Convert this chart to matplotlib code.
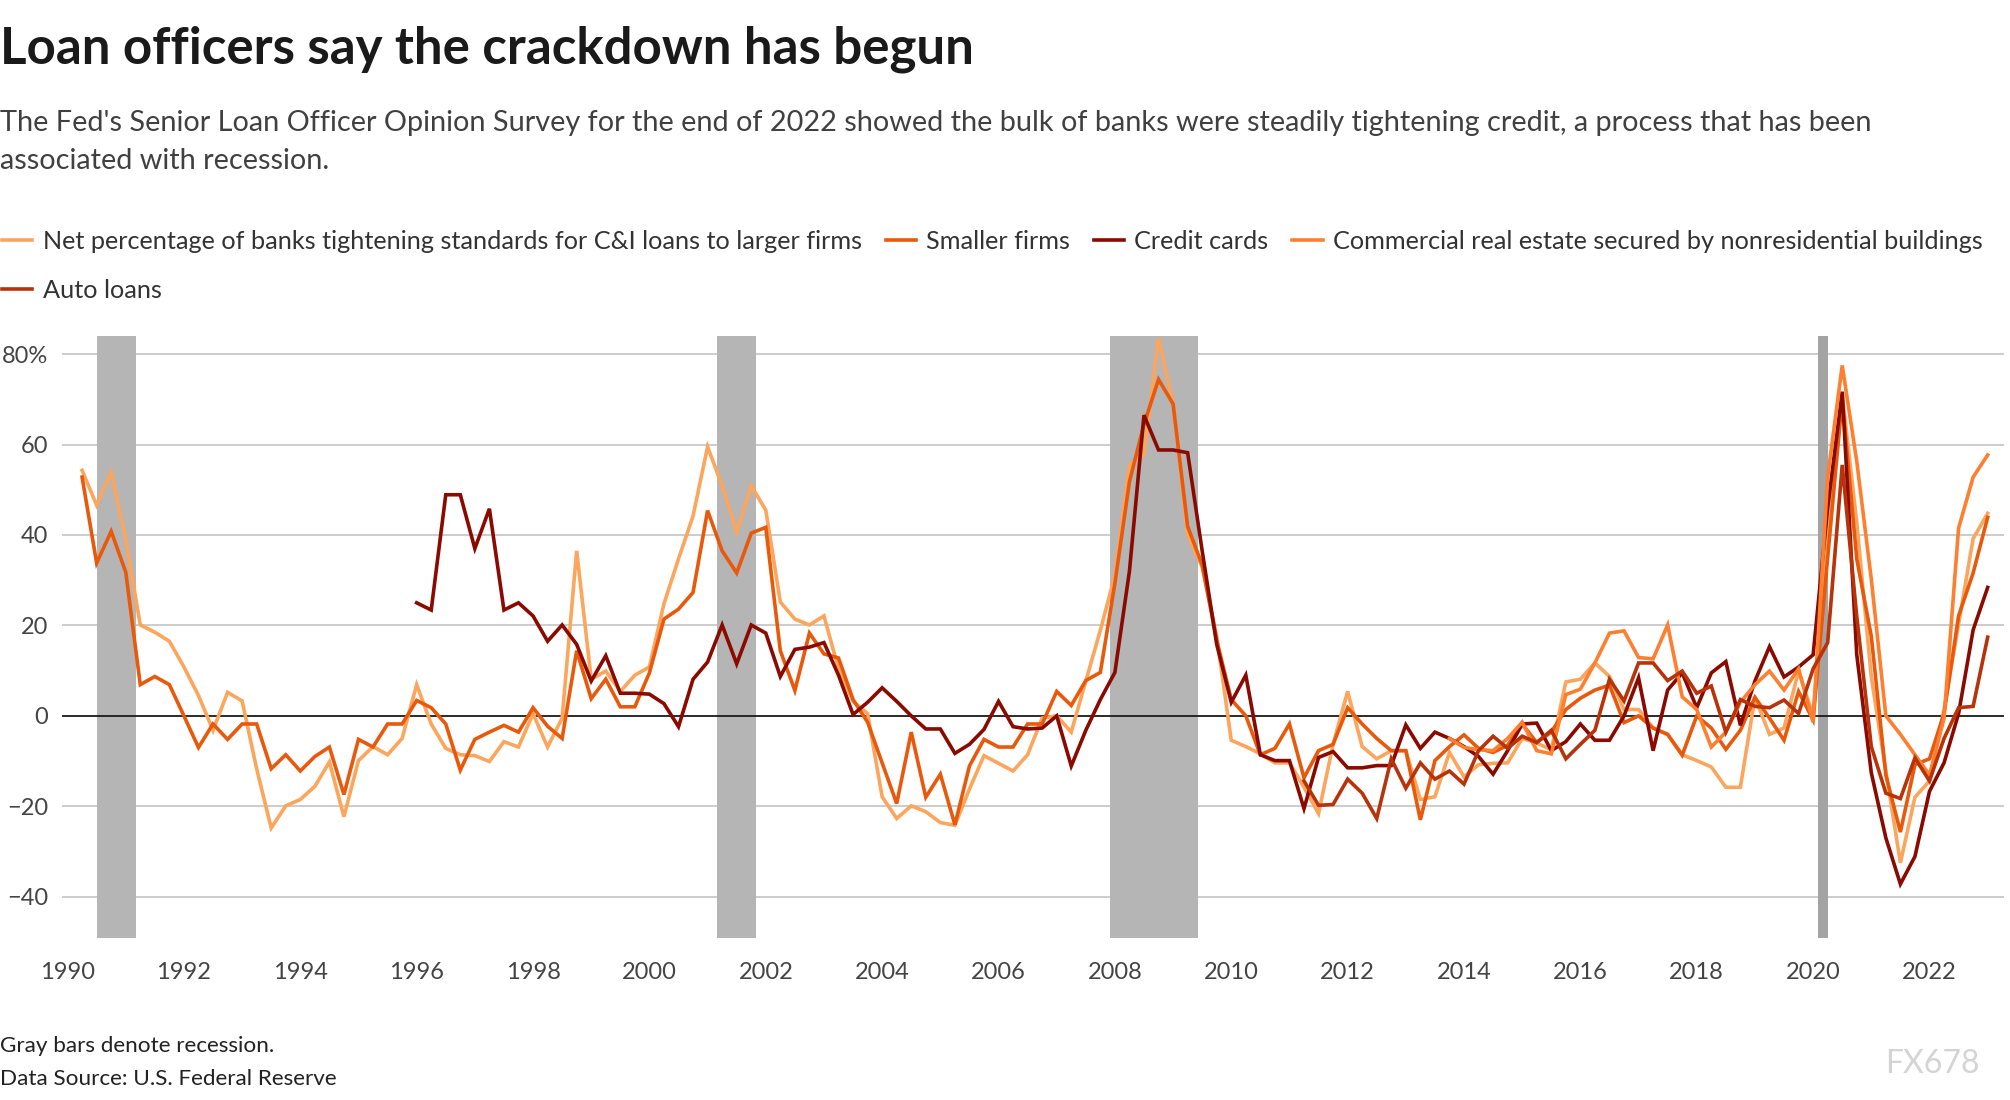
import matplotlib
matplotlib.use("Agg")
import matplotlib.pyplot as plt
import numpy as np

plt.rcParams['font.family'] = ['Lato', 'DejaVu Sans']

# quarterly survey values, net % of banks tightening
larger_start = 1990.25
larger = [54.3, 46.6, 53.9, 39, 20.1, 18.5, 16.5, 10.8, 4.5, -3.2, 5.2, 3.3, -11.7, -24.8, -19.9, -18.5,
          -15.6, -10.2, -22.3, -9.9, -6.8, -8.6, -5, 6.9, -1.8, -7.2, -8.6, -8.8, -10.1, -5.7, -6.9, 0.5,
          -6.9, -0.5, 36.5, 8.1, 9.9, 5.4, 9, 10.8, 24.8, 34.7, 44.2, 59.5, 50.9, 40.6, 50.9, 45.5,
          25.2, 21.4, 20.1, 22.1, 10.4, 3.2, 0.5, -17.9, -22.7, -19.9, -21.2, -23.6, -24.2, -16.2, -8.8, -10.5,
          -12.2, -8.6, -0.5, 0, -3.6, 7.7, 18.9, 31.1, 55.5, 57.7, 83.6, 69, 40.1, 32.9, 17.6, -5.4,
          -6.8, -8.4, -10.4, -10.4, -15.8, -21.6, -6.3, 5.4, -6.8, -9.5, -7.7, -7.7, -18.5, -17.9, -8.1, -13.5,
          -10.8, -10.5, -10.4, -5, -6, -7.5, 7.5, 8.1, 11.7, 8.7, 1.4, 1.4, -2.7, -4.1, -8.6, -9.9,
          -11.3, -15.8, -15.8, 4.1, -4.1, -2.7, 9.9, 0, 40, 71.2, 42.8, 8.6, -12.2, -32.5, -18, -14.4,
          1.4, 20.3, 39.2, 44.8]

smaller_start = 1990.25
smaller = [52.8, 33.8, 40.8, 31.8, 6.9, 8.7, 6.9, 0, -7, -1.8, -5.2, -1.8, -1.8, -11.7, -8.6, -12.2,
           -9, -6.9, -17.4, -5.2, -6.9, -1.8, -1.8, 3.4, 1.8, -1.8, -12, -5.2, -3.6, -2.1, -3.6, 1.8,
           -2.3, -5, 14.4, 3.8, 8.1, 2, 2, 9.5, 21.4, 23.6, 27.3, 45.4, 36.5, 31.6, 40.4, 41.7,
           14.4, 5.6, 18.3, 13.7, 12.8, 3.6, -1.4, -10.4, -19.4, -3.6, -18, -12.9, -24.1, -11.1, -5.2, -6.9,
           -6.9, -1.8, -1.8, 5.4, 2.3, 7.8, 9.6, 29.3, 51.8, 64.5, 74.4, 69, 41.9, 33.4, 16.7, 3.6,
           0, -8.6, -7.2, -1.8, -13.7, -7.7, -6.3, 1.8, -1.8, -5, -7.7, -7.7, -23, -9.9, -6.8, -4.2,
           -7.2, -8.1, -6.5, -1.8, -5.9, -3.6, 1.4, 3.9, 5.7, 6.8, -1.5, 0, -2.7, -4.1, -8.7, 0,
           -2.7, -7.4, -3.2, 4.1, -0.5, -5.4, 5.4, -0.9, 35, 70, 34.7, 17.6, -13.1, -25.7, -10.8, -9.5,
           0.5, 22.1, 31.6, 43.9]

cards_start = 1996.0
cards = [25, 23.4, 48.9, 48.9, 37, 45.8, 23.4, 25, 22.1, 16.5,
         20.1, 15.8, 7.7, 13.3, 5, 5, 4.8, 2.7, -2.4, 8.1, 11.9, 20.1, 11.5, 20.1, 18.3,
         8.7, 14.7, 15.2, 16.2, 9, 0.3, 3, 6.2, 3.2, 0, -2.9, -2.9, -8.3, -6.3, -3, 3.2, -2.4, -2.9,
         -2.7, 0, -11.1, -3.2, 3.6, 9.6, 32, 66.5, 58.8, 58.8, 58.2, 36.5, 15.8, 3, 9, -8.6,
         -9.9, -9.9, -20.5, -9.2, -7.9, -11.5, -11.5, -11, -11, -2, -7.2, -3.6, -5, -6.8, -9, -12.9, -7.7,
         -1.8, -1.6, -7.7, -5.7, -1.8, -5.4, -5.4, 0, 8.4, -7.7, 5.7, 9.5, 1.8, 9.5, 12, -2.1,
         7.7, 15.3, 8.6, 10.8, 13.5, 46, 71.7, 13.5, -12.6, -27, -37.2, -31.1, -16.7, -10.4, 0.5, 19,
         28.4]

cre_start = 2013.75
cre = [-5, -7, -7.5, -7.7, -5,
       -1.4, -7.7, -8.4, 4.7, 5.9, 11.7, 18.3, 18.8, 12.9, 12.6, 20.1, 4.2, 1.4, -6.9, -3.6, 3,
       6.9, 9.9, 5.7, 10.4, -1.4, 52.8, 77.5, 56.3, 30.2, 0, -4.1, -8.6, -13.1, -0.5, 41.5, 52.8,
       57.7]

auto_start = 2011.25
auto = [-14.4, -19.8, -19.6, -14, -17.1, -22.7, -9.5, -16, -10.4, -14, -12.2, -15.1, -7.7, -4.5, -7.2,
        -4.5, -5.9, -3.2, -9.5, -6.3, -3.2, 8.1, 3.3, 11.7, 11.7, 7.8, 9.9, 5, 6.6, -3.6, 3.6,
        2.1, 1.8, 3.5, 0.5, 10.4, 16.2, 55.5, 22, -6.8, -17.1, -18.3, -9.3, -14.4, -5, 1.8, 2.1,
        17.4]

recessions = [(1990.5, 1991.17), (2001.17, 2001.84), (2007.92, 2009.42), (2020.08, 2020.25)]

labels = ["Net percentage of banks tightening standards for C&I loans to larger firms",
          "Smaller firms", "Credit cards",
          "Commercial real estate secured by nonresidential buildings", "Auto loans"]
colors = ["#fca55d", "#e8590c", "#8b0a00", "#fd7f2f", "#b8330a"]


def qx(start, vals):
    return start + 0.25 * np.arange(len(vals))


fig = plt.figure(figsize=(20.1, 11), dpi=100)
ax = fig.add_axes([0.031, 0.147, 0.966, 0.5475])

for i, (a, b) in enumerate(recessions):
    ax.axvspan(a, b, color="#a3a3a3" if i == 3 else "#b5b5b5", lw=0, zorder=1)

for y in [-40, -20, 20, 40, 60, 80]:
    ax.axhline(y, color="#c8c8c8", lw=1.3, zorder=0)
ax.axhline(0, color="#1a1a1a", lw=1.3, zorder=2)

series = [(larger_start, larger), (smaller_start, smaller), (cards_start, cards),
          (cre_start, cre), (auto_start, auto)]
handles = []
for (st, vals), lab, c in zip(series, labels, colors):
    h, = ax.plot(qx(st, vals), vals, color=c, lw=2.6, label=lab, zorder=3,
                 solid_joinstyle="miter")
    handles.append(h)

ax.set_xlim(1989.91, 2023.28)
ax.set_ylim(-49.2, 84)
ax.set_yticks([-40, -20, 0, 20, 40, 60, 80])
ax.set_yticklabels(["\u221240", "\u221220", "0", "20", "40", "60", "80%"])
ax.set_xticks(range(1990, 2023, 2))
ax.tick_params(axis="both", length=0, labelsize=17, colors="#444444")
ax.tick_params(axis="x", pad=17)
ax.tick_params(axis="y", pad=10)
for s in ax.spines.values():
    s.set_visible(False)

# row-major order for the 4-column legend
order = [0, 4, 1, 2, 3]
fig.legend([handles[i] for i in order], [labels[i] for i in order],
           loc="upper left", bbox_to_anchor=(-0.004, 0.8), ncol=4, frameon=False,
           fontsize=18.2, handlelength=1.2, handletextpad=0.4, columnspacing=0.95,
           labelspacing=1.03, labelcolor="#333333", borderaxespad=0)

fig.text(0.0, 0.955, "Loan officers say the crackdown has begun", fontsize=36.7,
         fontweight="bold", color="#1a1a1a", va="center", ha="left")
fig.text(0.0, 0.9,
         "The Fed's Senior Loan Officer Opinion Survey for the end of 2022 showed the bulk of banks were steadily tightening credit, a process that has been\nassociated with recession.",
         fontsize=20.8, color="#404040", va="top", ha="left", linespacing=1.55)

fig.text(0.0, 0.049, "Gray bars denote recession.", fontsize=16.2, color="#222222", va="center")
fig.text(0.0, 0.019, "Data Source: U.S. Federal Reserve", fontsize=16.2, color="#222222", va="center")
fig.text(0.985, 0.033, "FX678", fontsize=23, color="#d4d4d4", ha="right", va="center")

fig.savefig("out.png", dpi=100)
